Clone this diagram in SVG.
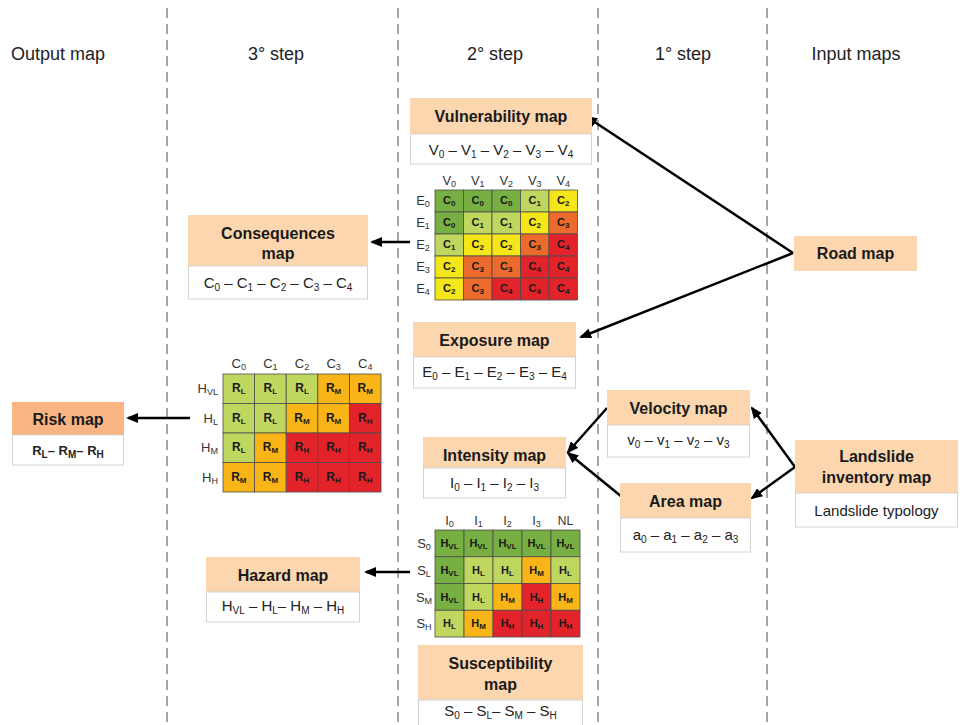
<svg xmlns="http://www.w3.org/2000/svg" width="960" height="725" viewBox="0 0 960 725">
<style>
.bg{fill:#ffffff}
.dash{stroke:#a6a6a6;stroke-width:2;stroke-dasharray:10 6;fill:none}
.hd{font-family:"Liberation Sans",Arial,sans-serif;font-size:18px;fill:#222;text-anchor:middle}
.hb{fill:#fbd6ae}
.hr{fill:#f8b482}
.sb{fill:#ffffff;stroke:#d4d4d4;stroke-width:1}
.t{font-family:"Liberation Sans",Arial,sans-serif;font-weight:bold;font-size:16px;fill:#1a1a1a;text-anchor:middle}
.sub{font-family:"Liberation Sans",Arial,sans-serif;font-size:15px;fill:#222;text-anchor:middle}
.ss{font-size:10px}
.lb{font-family:"Liberation Sans",Arial,sans-serif;font-size:13px;fill:#333;text-anchor:middle}
.lbs{font-size:9px}
.ct{font-family:"Liberation Sans",Arial,sans-serif;font-weight:bold;font-size:11px;fill:#1a1a1a;text-anchor:middle}
.rt{font-size:12px}
.cs{font-size:8px}
.cell rect{stroke:#4d4d4d;stroke-width:0.8}
.k0{fill:#77af43}.k1{fill:#bfd75f}.k2{fill:#f5e61a}.k3{fill:#ec6a2b}.k4{fill:#e3232a}.km{fill:#f9b418}
.ar{stroke:#000;stroke-width:2.5;fill:none;marker-end:url(#ah)}
</style>
<defs>
<marker id="ah" viewBox="0 0 12 10" refX="10" refY="5" markerWidth="12" markerHeight="10" markerUnits="userSpaceOnUse" orient="auto">
<path d="M0,0 L12,5 L0,10 z" fill="#000"/>
</marker>
</defs>
<rect class="bg" x="0" y="0" width="960" height="725"/>

<g id="columns">
<line class="dash" x1="167" y1="8" x2="167" y2="725"/>
<line class="dash" x1="398" y1="8" x2="398" y2="725"/>
<line class="dash" x1="598" y1="8" x2="598" y2="725"/>
<line class="dash" x1="767" y1="8" x2="767" y2="725"/>
<text class="hd" x="58" y="60">Output map</text>
<text class="hd" x="276" y="60">3° step</text>
<text class="hd" x="495" y="60">2° step</text>
<text class="hd" x="683" y="60">1° step</text>
<text class="hd" x="856" y="60">Input maps</text>
</g>

<g id="connectors">
<line class="ar" x1="793" y1="253" x2="587" y2="117"/>
<line class="ar" x1="793" y1="253" x2="581" y2="337"/>
<line class="ar" x1="410" y1="242" x2="372" y2="242"/>
<line class="ar" x1="190" y1="418" x2="128" y2="418"/>
<line class="ar" x1="410" y1="572" x2="366" y2="572"/>
<line class="ar" x1="607" y1="408" x2="568" y2="452"/>
<line class="ar" x1="622" y1="497" x2="568" y2="453"/>
<line class="ar" x1="795" y1="467" x2="752" y2="408"/>
<line class="ar" x1="795" y1="467" x2="752" y2="498"/>
</g>

<g id="vulnerability">
<rect class="hb" x="410" y="98" width="182" height="36"/>
<rect class="sb" x="410.5" y="134" width="181" height="30"/>
<text class="t" x="501" y="122">Vulnerability map</text>
<text class="sub" x="501" y="155">V<tspan class="ss" dy="3">0</tspan><tspan dy="-3"> – V</tspan><tspan class="ss" dy="3">1</tspan><tspan dy="-3"> – V</tspan><tspan class="ss" dy="3">2</tspan><tspan dy="-3"> – V</tspan><tspan class="ss" dy="3">3</tspan><tspan dy="-3"> – V</tspan><tspan class="ss" dy="3">4</tspan></text>
</g>

<g id="consequences">
<rect class="hb" x="188" y="215" width="180" height="51"/>
<rect class="sb" x="188.5" y="266" width="179" height="33"/>
<text class="t" x="278" y="239">Consequences</text>
<text class="t" x="278" y="259">map</text>
<text class="sub" x="278" y="288">C<tspan class="ss" dy="3">0</tspan><tspan dy="-3"> – C</tspan><tspan class="ss" dy="3">1</tspan><tspan dy="-3"> – C</tspan><tspan class="ss" dy="3">2</tspan><tspan dy="-3"> – C</tspan><tspan class="ss" dy="3">3</tspan><tspan dy="-3"> – C</tspan><tspan class="ss" dy="3">4</tspan></text>
</g>

<g id="exposure">
<rect class="hb" x="413" y="322" width="163" height="35"/>
<rect class="sb" x="413.5" y="357" width="162" height="31"/>
<text class="t" x="494.5" y="346">Exposure map</text>
<text class="sub" x="494.5" y="377">E<tspan class="ss" dy="3">0</tspan><tspan dy="-3"> – E</tspan><tspan class="ss" dy="3">1</tspan><tspan dy="-3"> – E</tspan><tspan class="ss" dy="3">2</tspan><tspan dy="-3"> – E</tspan><tspan class="ss" dy="3">3</tspan><tspan dy="-3"> – E</tspan><tspan class="ss" dy="3">4</tspan></text>
</g>

<g id="intensity">
<rect class="hb" x="423" y="437" width="143" height="31"/>
<rect class="sb" x="423.5" y="468" width="142" height="30"/>
<text class="t" x="494.5" y="461">Intensity map</text>
<text class="sub" x="494.5" y="488">I<tspan class="ss" dy="3">0</tspan><tspan dy="-3"> – I</tspan><tspan class="ss" dy="3">1</tspan><tspan dy="-3"> – I</tspan><tspan class="ss" dy="3">2</tspan><tspan dy="-3"> – I</tspan><tspan class="ss" dy="3">3</tspan></text>
</g>

<g id="risk">
<rect class="hr" x="12" y="402" width="112" height="33"/>
<rect class="sb" x="12.5" y="435" width="111" height="30"/>
<text class="t" x="68" y="425">Risk map</text>
<text class="sub" x="68" y="455" style="font-weight:bold;font-size:13px">R<tspan class="ss" dy="3">L</tspan><tspan dy="-3">– R</tspan><tspan class="ss" dy="3">M</tspan><tspan dy="-3">– R</tspan><tspan class="ss" dy="3">H</tspan></text>
</g>

<g id="hazard">
<rect class="hb" x="206" y="557" width="154" height="35"/>
<rect class="sb" x="206.5" y="592" width="153" height="30"/>
<text class="t" x="283" y="581">Hazard map</text>
<text class="sub" x="283" y="611">H<tspan class="ss" dy="3">VL</tspan><tspan dy="-3"> – H</tspan><tspan class="ss" dy="3">L</tspan><tspan dy="-3">– H</tspan><tspan class="ss" dy="3">M</tspan><tspan dy="-3"> – H</tspan><tspan class="ss" dy="3">H</tspan></text>
</g>

<g id="susceptibility">
<rect class="hb" x="418" y="645" width="165" height="55"/>
<rect class="sb" x="418.5" y="700" width="164" height="26"/>
<text class="t" x="500.5" y="669">Susceptibility</text>
<text class="t" x="500.5" y="690">map</text>
<text class="sub" x="500.5" y="716">S<tspan class="ss" dy="3">0</tspan><tspan dy="-3"> – S</tspan><tspan class="ss" dy="3">L</tspan><tspan dy="-3">– S</tspan><tspan class="ss" dy="3">M</tspan><tspan dy="-3"> – S</tspan><tspan class="ss" dy="3">H</tspan></text>
</g>

<g id="velocity">
<rect class="hb" x="607" y="390" width="143" height="35"/>
<rect class="sb" x="607.5" y="425" width="142" height="32"/>
<text class="t" x="678.5" y="414">Velocity map</text>
<text class="sub" x="678.5" y="445">v<tspan class="ss" dy="3">0</tspan><tspan dy="-3"> – v</tspan><tspan class="ss" dy="3">1</tspan><tspan dy="-3"> – v</tspan><tspan class="ss" dy="3">2</tspan><tspan dy="-3"> – v</tspan><tspan class="ss" dy="3">3</tspan></text>
</g>

<g id="area">
<rect class="hb" x="620" y="483" width="131" height="35"/>
<rect class="sb" x="620.5" y="518" width="130" height="34"/>
<text class="t" x="685.5" y="507">Area map</text>
<text class="sub" x="685.5" y="540">a<tspan class="ss" dy="3">0</tspan><tspan dy="-3"> – a</tspan><tspan class="ss" dy="3">1</tspan><tspan dy="-3"> – a</tspan><tspan class="ss" dy="3">2</tspan><tspan dy="-3"> – a</tspan><tspan class="ss" dy="3">3</tspan></text>
</g>

<g id="landslide">
<rect class="hb" x="795" y="440" width="163" height="53"/>
<rect class="sb" x="795.5" y="493" width="162" height="34"/>
<text class="t" x="876.5" y="462">Landslide</text>
<text class="t" x="876.5" y="483">inventory map</text>
<text class="sub" x="876.5" y="516">Landslide typology</text>
</g>

<g id="road">
<rect class="hb" x="794" y="236" width="123" height="35"/>
<text class="t" x="855.5" y="259">Road map</text>
</g>

<g id="matrix-consequences">
<text class="lb" x="449.25" y="185">V<tspan class="lbs" dy="2">0</tspan></text>
<text class="lb" x="477.75" y="185">V<tspan class="lbs" dy="2">1</tspan></text>
<text class="lb" x="506.25" y="185">V<tspan class="lbs" dy="2">2</tspan></text>
<text class="lb" x="534.75" y="185">V<tspan class="lbs" dy="2">3</tspan></text>
<text class="lb" x="563.25" y="185">V<tspan class="lbs" dy="2">4</tspan></text>
<text class="lb" x="423" y="205">E<tspan class="lbs" dy="2">0</tspan></text>
<text class="lb" x="423" y="227">E<tspan class="lbs" dy="2">1</tspan></text>
<text class="lb" x="423" y="249">E<tspan class="lbs" dy="2">2</tspan></text>
<text class="lb" x="423" y="271">E<tspan class="lbs" dy="2">3</tspan></text>
<text class="lb" x="423" y="293">E<tspan class="lbs" dy="2">4</tspan></text>
<g class="cell">
<rect class="k0" x="435" y="190" width="28.5" height="22"/><rect class="k0" x="463.5" y="190" width="28.5" height="22"/><rect class="k0" x="492" y="190" width="28.5" height="22"/><rect class="k1" x="520.5" y="190" width="28.5" height="22"/><rect class="k2" x="549" y="190" width="28.5" height="22"/>
<rect class="k0" x="435" y="212" width="28.5" height="22"/><rect class="k1" x="463.5" y="212" width="28.5" height="22"/><rect class="k1" x="492" y="212" width="28.5" height="22"/><rect class="k2" x="520.5" y="212" width="28.5" height="22"/><rect class="k3" x="549" y="212" width="28.5" height="22"/>
<rect class="k1" x="435" y="234" width="28.5" height="22"/><rect class="k2" x="463.5" y="234" width="28.5" height="22"/><rect class="k2" x="492" y="234" width="28.5" height="22"/><rect class="k3" x="520.5" y="234" width="28.5" height="22"/><rect class="k4" x="549" y="234" width="28.5" height="22"/>
<rect class="k2" x="435" y="256" width="28.5" height="22"/><rect class="k3" x="463.5" y="256" width="28.5" height="22"/><rect class="k3" x="492" y="256" width="28.5" height="22"/><rect class="k4" x="520.5" y="256" width="28.5" height="22"/><rect class="k4" x="549" y="256" width="28.5" height="22"/>
<rect class="k2" x="435" y="278" width="28.5" height="22"/><rect class="k3" x="463.5" y="278" width="28.5" height="22"/><rect class="k4" x="492" y="278" width="28.5" height="22"/><rect class="k4" x="520.5" y="278" width="28.5" height="22"/><rect class="k4" x="549" y="278" width="28.5" height="22"/>
</g>
<text class="ct" x="449.25" y="204">C<tspan class="cs" dy="2">0</tspan></text><text class="ct" x="477.75" y="204">C<tspan class="cs" dy="2">0</tspan></text><text class="ct" x="506.25" y="204">C<tspan class="cs" dy="2">0</tspan></text><text class="ct" x="534.75" y="204">C<tspan class="cs" dy="2">1</tspan></text><text class="ct" x="563.25" y="204">C<tspan class="cs" dy="2">2</tspan></text>
<text class="ct" x="449.25" y="226">C<tspan class="cs" dy="2">0</tspan></text><text class="ct" x="477.75" y="226">C<tspan class="cs" dy="2">1</tspan></text><text class="ct" x="506.25" y="226">C<tspan class="cs" dy="2">1</tspan></text><text class="ct" x="534.75" y="226">C<tspan class="cs" dy="2">2</tspan></text><text class="ct" x="563.25" y="226">C<tspan class="cs" dy="2">3</tspan></text>
<text class="ct" x="449.25" y="248">C<tspan class="cs" dy="2">1</tspan></text><text class="ct" x="477.75" y="248">C<tspan class="cs" dy="2">2</tspan></text><text class="ct" x="506.25" y="248">C<tspan class="cs" dy="2">2</tspan></text><text class="ct" x="534.75" y="248">C<tspan class="cs" dy="2">3</tspan></text><text class="ct" x="563.25" y="248">C<tspan class="cs" dy="2">4</tspan></text>
<text class="ct" x="449.25" y="270">C<tspan class="cs" dy="2">2</tspan></text><text class="ct" x="477.75" y="270">C<tspan class="cs" dy="2">3</tspan></text><text class="ct" x="506.25" y="270">C<tspan class="cs" dy="2">3</tspan></text><text class="ct" x="534.75" y="270">C<tspan class="cs" dy="2">4</tspan></text><text class="ct" x="563.25" y="270">C<tspan class="cs" dy="2">4</tspan></text>
<text class="ct" x="449.25" y="292">C<tspan class="cs" dy="2">2</tspan></text><text class="ct" x="477.75" y="292">C<tspan class="cs" dy="2">3</tspan></text><text class="ct" x="506.25" y="292">C<tspan class="cs" dy="2">4</tspan></text><text class="ct" x="534.75" y="292">C<tspan class="cs" dy="2">4</tspan></text><text class="ct" x="563.25" y="292">C<tspan class="cs" dy="2">4</tspan></text>
</g>

<g id="matrix-risk">
<text class="lb" x="238.8" y="368">C<tspan class="lbs" dy="2">0</tspan></text>
<text class="lb" x="270.4" y="368">C<tspan class="lbs" dy="2">1</tspan></text>
<text class="lb" x="302" y="368">C<tspan class="lbs" dy="2">2</tspan></text>
<text class="lb" x="333.6" y="368">C<tspan class="lbs" dy="2">3</tspan></text>
<text class="lb" x="365.2" y="368">C<tspan class="lbs" dy="2">4</tspan></text>
<text class="lb" x="218" y="393" style="text-anchor:end">H<tspan class="lbs" dy="2">VL</tspan></text>
<text class="lb" x="218" y="422.5" style="text-anchor:end">H<tspan class="lbs" dy="2">L</tspan></text>
<text class="lb" x="218" y="452" style="text-anchor:end">H<tspan class="lbs" dy="2">M</tspan></text>
<text class="lb" x="218" y="481.5" style="text-anchor:end">H<tspan class="lbs" dy="2">H</tspan></text>
<g class="cell">
<rect class="k1" x="223" y="374" width="31.6" height="29.5"/><rect class="k1" x="254.6" y="374" width="31.6" height="29.5"/><rect class="k1" x="286.2" y="374" width="31.6" height="29.5"/><rect class="km" x="317.8" y="374" width="31.6" height="29.5"/><rect class="km" x="349.4" y="374" width="31.6" height="29.5"/>
<rect class="k1" x="223" y="403.5" width="31.6" height="29.5"/><rect class="k1" x="254.6" y="403.5" width="31.6" height="29.5"/><rect class="km" x="286.2" y="403.5" width="31.6" height="29.5"/><rect class="km" x="317.8" y="403.5" width="31.6" height="29.5"/><rect class="k4" x="349.4" y="403.5" width="31.6" height="29.5"/>
<rect class="k1" x="223" y="433" width="31.6" height="29.5"/><rect class="km" x="254.6" y="433" width="31.6" height="29.5"/><rect class="k4" x="286.2" y="433" width="31.6" height="29.5"/><rect class="k4" x="317.8" y="433" width="31.6" height="29.5"/><rect class="k4" x="349.4" y="433" width="31.6" height="29.5"/>
<rect class="km" x="223" y="462.5" width="31.6" height="29.5"/><rect class="km" x="254.6" y="462.5" width="31.6" height="29.5"/><rect class="k4" x="286.2" y="462.5" width="31.6" height="29.5"/><rect class="k4" x="317.8" y="462.5" width="31.6" height="29.5"/><rect class="k4" x="349.4" y="462.5" width="31.6" height="29.5"/>
</g>
<text class="ct rt" x="238.8" y="392">R<tspan class="cs" dy="2">L</tspan></text><text class="ct rt" x="270.4" y="392">R<tspan class="cs" dy="2">L</tspan></text><text class="ct rt" x="302" y="392">R<tspan class="cs" dy="2">L</tspan></text><text class="ct rt" x="333.6" y="392">R<tspan class="cs" dy="2">M</tspan></text><text class="ct rt" x="365.2" y="392">R<tspan class="cs" dy="2">M</tspan></text>
<text class="ct rt" x="238.8" y="421.5">R<tspan class="cs" dy="2">L</tspan></text><text class="ct rt" x="270.4" y="421.5">R<tspan class="cs" dy="2">L</tspan></text><text class="ct rt" x="302" y="421.5">R<tspan class="cs" dy="2">M</tspan></text><text class="ct rt" x="333.6" y="421.5">R<tspan class="cs" dy="2">M</tspan></text><text class="ct rt" x="365.2" y="421.5">R<tspan class="cs" dy="2">H</tspan></text>
<text class="ct rt" x="238.8" y="451">R<tspan class="cs" dy="2">L</tspan></text><text class="ct rt" x="270.4" y="451">R<tspan class="cs" dy="2">M</tspan></text><text class="ct rt" x="302" y="451">R<tspan class="cs" dy="2">H</tspan></text><text class="ct rt" x="333.6" y="451">R<tspan class="cs" dy="2">H</tspan></text><text class="ct rt" x="365.2" y="451">R<tspan class="cs" dy="2">H</tspan></text>
<text class="ct rt" x="238.8" y="480.5">R<tspan class="cs" dy="2">M</tspan></text><text class="ct rt" x="270.4" y="480.5">R<tspan class="cs" dy="2">M</tspan></text><text class="ct rt" x="302" y="480.5">R<tspan class="cs" dy="2">H</tspan></text><text class="ct rt" x="333.6" y="480.5">R<tspan class="cs" dy="2">H</tspan></text><text class="ct rt" x="365.2" y="480.5">R<tspan class="cs" dy="2">H</tspan></text>
</g>

<g id="matrix-hazard">
<text class="lb" x="449.5" y="525">I<tspan class="lbs" dy="2">0</tspan></text>
<text class="lb" x="478.5" y="525">I<tspan class="lbs" dy="2">1</tspan></text>
<text class="lb" x="507.5" y="525">I<tspan class="lbs" dy="2">2</tspan></text>
<text class="lb" x="536.5" y="525">I<tspan class="lbs" dy="2">3</tspan></text>
<text class="lb" x="565.5" y="525" style="font-size:12px">NL</text>
<text class="lb" x="424" y="548">S<tspan class="lbs" dy="2">0</tspan></text>
<text class="lb" x="424" y="574.75">S<tspan class="lbs" dy="2">L</tspan></text>
<text class="lb" x="424" y="601.5">S<tspan class="lbs" dy="2">M</tspan></text>
<text class="lb" x="424" y="628.25">S<tspan class="lbs" dy="2">H</tspan></text>
<g class="cell">
<rect class="k0" x="435" y="530" width="29" height="26.75"/><rect class="k0" x="464" y="530" width="29" height="26.75"/><rect class="k0" x="493" y="530" width="29" height="26.75"/><rect class="k0" x="522" y="530" width="29" height="26.75"/><rect class="k0" x="551" y="530" width="29" height="26.75"/>
<rect class="k0" x="435" y="556.75" width="29" height="26.75"/><rect class="k1" x="464" y="556.75" width="29" height="26.75"/><rect class="k1" x="493" y="556.75" width="29" height="26.75"/><rect class="km" x="522" y="556.75" width="29" height="26.75"/><rect class="k1" x="551" y="556.75" width="29" height="26.75"/>
<rect class="k0" x="435" y="583.5" width="29" height="26.75"/><rect class="k1" x="464" y="583.5" width="29" height="26.75"/><rect class="km" x="493" y="583.5" width="29" height="26.75"/><rect class="k4" x="522" y="583.5" width="29" height="26.75"/><rect class="km" x="551" y="583.5" width="29" height="26.75"/>
<rect class="k1" x="435" y="610.25" width="29" height="26.75"/><rect class="km" x="464" y="610.25" width="29" height="26.75"/><rect class="k4" x="493" y="610.25" width="29" height="26.75"/><rect class="k4" x="522" y="610.25" width="29" height="26.75"/><rect class="k4" x="551" y="610.25" width="29" height="26.75"/>
</g>
<text class="ct" x="449.5" y="547">H<tspan class="cs" dy="2">VL</tspan></text><text class="ct" x="478.5" y="547">H<tspan class="cs" dy="2">VL</tspan></text><text class="ct" x="507.5" y="547">H<tspan class="cs" dy="2">VL</tspan></text><text class="ct" x="536.5" y="547">H<tspan class="cs" dy="2">VL</tspan></text><text class="ct" x="565.5" y="547">H<tspan class="cs" dy="2">VL</tspan></text>
<text class="ct" x="449.5" y="573.75">H<tspan class="cs" dy="2">VL</tspan></text><text class="ct" x="478.5" y="573.75">H<tspan class="cs" dy="2">L</tspan></text><text class="ct" x="507.5" y="573.75">H<tspan class="cs" dy="2">L</tspan></text><text class="ct" x="536.5" y="573.75">H<tspan class="cs" dy="2">M</tspan></text><text class="ct" x="565.5" y="573.75">H<tspan class="cs" dy="2">L</tspan></text>
<text class="ct" x="449.5" y="600.5">H<tspan class="cs" dy="2">VL</tspan></text><text class="ct" x="478.5" y="600.5">H<tspan class="cs" dy="2">L</tspan></text><text class="ct" x="507.5" y="600.5">H<tspan class="cs" dy="2">M</tspan></text><text class="ct" x="536.5" y="600.5">H<tspan class="cs" dy="2">H</tspan></text><text class="ct" x="565.5" y="600.5">H<tspan class="cs" dy="2">M</tspan></text>
<text class="ct" x="449.5" y="627.25">H<tspan class="cs" dy="2">L</tspan></text><text class="ct" x="478.5" y="627.25">H<tspan class="cs" dy="2">M</tspan></text><text class="ct" x="507.5" y="627.25">H<tspan class="cs" dy="2">H</tspan></text><text class="ct" x="536.5" y="627.25">H<tspan class="cs" dy="2">H</tspan></text><text class="ct" x="565.5" y="627.25">H<tspan class="cs" dy="2">H</tspan></text>
</g>
</svg>
